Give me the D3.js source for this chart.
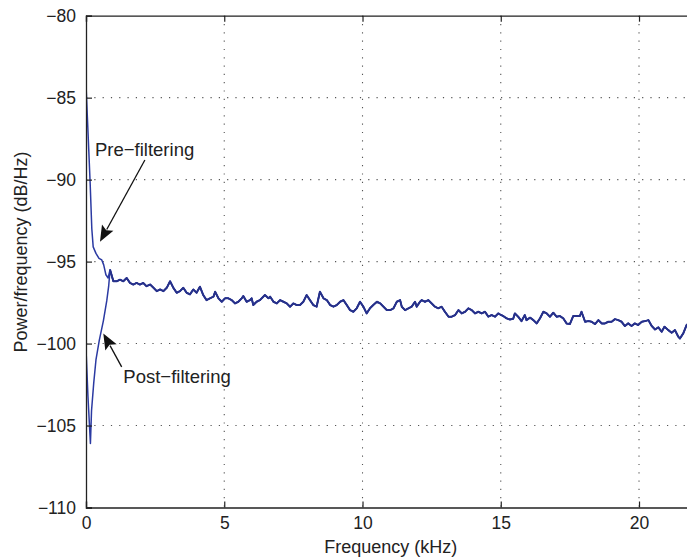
<!DOCTYPE html>
<html>
<head>
<meta charset="utf-8">
<script src="https://cdn.jsdelivr.net/npm/d3@7"></script>
<style>
  html, body { margin: 0; padding: 0; background: #fff; }
  svg { display: block; font-family: "Liberation Sans", Arial, Helvetica, sans-serif; }
</style>
</head>
<body>
<svg id="chart" width="687" height="559"></svg>
<script>
// ---- Data ----
const xTicks = [0, 5, 10, 15, 20];
const yTicks = [-110, -105, -100, -95, -90, -85, -80];
const xDomain = [0, 22.05];
const yDomain = [-110, -80];

// Low-frequency part, before the two spectra merge
const preLowFreq = [0, 0.05, 0.10, 0.15, 0.21, 0.26, 0.36, 0.47, 0.57, 0.64, 0.72, 0.80];
const preLowDb   = [-84.2, -86.2, -88.2, -90.2, -93.0, -94.1, -94.5, -94.8, -94.9, -95.2, -95.8, -96.0];
const postLowFreq = [0, 0.07, 0.16, 0.20, 0.28, 0.36, 0.48, 0.63, 0.75, 0.82];
const postLowDb   = [-100.3, -103.2, -106.1, -104.1, -102.4, -101.0, -99.8, -98.6, -97.4, -96.5];

// Shared part (both spectra coincide above ~0.9 kHz)
const sharedFreq = [
  0.87, 0.99, 1.11, 1.23, 1.35, 1.47, 1.59, 1.71, 1.83, 1.95, 2.07, 2.19, 2.32, 2.44, 2.56, 2.68,
  2.80, 2.92, 3.04, 3.16, 3.28, 3.40, 3.52, 3.64, 3.76, 3.88, 4.00,
  4.12, 4.24, 4.36, 4.48, 4.61, 4.67, 4.79, 4.91, 5.03, 5.15, 5.27, 5.39, 5.51, 5.63, 5.69, 5.81,
  5.93, 5.99, 6.05, 6.17, 6.29, 6.41, 6.47, 6.60, 6.66, 6.78, 6.90, 7.02, 7.14, 7.26, 7.38, 7.50,
  7.62, 7.74, 7.86, 7.98, 8.10, 8.22, 8.34, 8.46, 8.59, 8.71, 8.83, 8.95, 9.07, 9.19, 9.31, 9.43,
  9.55, 9.67, 9.79, 9.91, 10.03, 10.15, 10.27, 10.39, 10.52, 10.64, 10.76, 10.88, 11.00, 11.12,
  11.24, 11.36,
  11.42, 11.54, 11.66, 11.78, 11.90, 11.96, 12.08, 12.14, 12.26, 12.38, 12.50, 12.62, 12.74, 12.86,
  12.98, 13.11, 13.23, 13.35, 13.47, 13.59, 13.71, 13.83, 13.95, 14.07, 14.19, 14.31, 14.43, 14.55,
  14.67, 14.79, 14.91,
  14.97, 15.09, 15.21, 15.33, 15.45, 15.51, 15.63, 15.75, 15.87, 15.93, 16.06, 16.18, 16.30, 16.42,
  16.54, 16.66, 16.78, 16.90, 17.02, 17.14, 17.26, 17.38, 17.50, 17.62, 17.74, 17.86, 17.92, 18.05,
  18.17, 18.29, 18.41, 18.53, 18.65, 18.77, 18.89, 19.01, 19.13, 19.25, 19.37, 19.49, 19.61, 19.73,
  19.85, 19.97, 20.10, 20.22, 20.34, 20.46, 20.58, 20.70, 20.82, 20.92, 21.06, 21.18, 21.30, 21.42,
  21.48, 21.60, 21.72, 21.85, 21.97, 22.05
];
const sharedDb = [
  -95.5, -96.2, -96.2, -96.1, -96.2, -96.0, -96.3, -96.4, -96.3, -96.4, -96.3, -96.5, -96.4, -96.6, -96.8, -96.7,
  -96.8, -96.6, -96.2, -96.6, -96.9, -96.8, -96.6, -96.9, -97.0, -96.7, -96.9,
  -96.53, -97.04, -97.35, -97.24, -97.14, -96.84, -97.24, -97.45, -97.24, -97.24, -97.35, -97.55, -97.45, -97.24, -97.10, -97.45,
  -97.35, -97.24, -97.65, -97.45, -97.35, -97.14, -97.04, -97.24, -97.14, -97.45, -97.55, -97.35, -97.45, -97.55, -97.75, -97.55,
  -97.65, -97.65, -97.45, -97.04, -97.35, -97.65, -97.75, -96.84, -97.24, -97.35, -97.65, -97.75, -97.65, -97.45, -97.35, -97.65,
  -97.96, -98.06, -97.85, -97.45, -97.75, -98.16, -97.85, -97.65, -97.45, -97.55, -97.75, -97.96, -97.96, -97.85,
  -97.45, -97.35,
  -97.75, -97.96, -97.85, -97.75, -97.45, -97.75, -97.45, -97.35, -97.45, -97.35, -97.55, -97.75, -97.85, -97.75,
  -98.06, -98.36, -98.36, -98.26, -97.96, -98.16, -98.06, -97.85, -97.96, -98.16, -98.06, -98.16, -98.06, -98.36,
  -98.26, -98.36, -98.16,
  -98.22, -98.32, -98.46, -98.53, -98.49, -98.16, -98.36, -98.63, -98.26, -98.57, -98.42, -98.57, -98.77, -98.46,
  -98.06, -98.16, -98.36, -98.12, -98.36, -98.32, -98.46, -98.77, -98.81, -98.32, -98.32, -98.32, -98.06, -98.67,
  -98.63, -98.67, -98.81, -98.57, -98.77, -98.77, -98.67, -98.67, -98.51, -98.57, -98.67, -98.93, -98.77, -98.93,
  -98.77, -98.87, -98.67, -98.63, -98.57, -98.93, -99.14, -99.01, -99.28, -98.97, -99.18, -99.34, -99.18, -99.58,
  -99.69, -99.38, -98.87, -98.70, -98.80, -98.90
];

// Annotations (in data units: kHz, dB)
const annotations = [
  { text: "Pre\u2212filtering",  tx: 0.325, ty: -88.56, from: [2.13, -88.8],  to: [0.506, -93.79] },
  { text: "Post\u2212filtering", tx: 1.35,  ty: -102.43, from: [1.29, -101.42], to: [0.626, -99.38] }
];

// ---- Layout ----
const svg = d3.select("#chart");
const mLeft = 86, mRight = 695.7, mTop = 15.7, mBottom = 507.5;

const x = d3.scaleLinear().domain(xDomain).range([mLeft, mRight]);
const y = d3.scaleLinear().domain(yDomain).range([mBottom, mTop]);

svg.append("rect").attr("width", 687).attr("height", 559).attr("fill", "#fff");

svg.append("defs").append("clipPath").attr("id", "plotclip")
  .append("rect").attr("x", mLeft).attr("y", mTop).attr("width", mRight - mLeft).attr("height", mBottom - mTop);

// Grid (dotted)
const grid = svg.append("g");
grid.selectAll(".gx").data(xTicks.filter(d => d > xDomain[0] && d < xDomain[1])).enter().append("line")
  .attr("x1", d => x(d)).attr("x2", d => x(d)).attr("y1", mTop).attr("y2", mBottom)
  .attr("stroke", "#555").attr("stroke-width", 1.1).attr("stroke-dasharray", "1.2,7.1");
grid.selectAll(".gy").data(yTicks.filter(d => d > yDomain[0] && d < yDomain[1])).enter().append("line")
  .attr("y1", d => y(d)).attr("y2", d => y(d)).attr("x1", mLeft).attr("x2", mRight)
  .attr("stroke", "#555").attr("stroke-width", 1.1).attr("stroke-dasharray", "1.2,7.1");

// Lines
const line = d3.line().x(d => x(d[0])).y(d => y(d[1]));
const shared = sharedFreq.map((f, i) => [f, sharedDb[i]]);
const pre = preLowFreq.map((f, i) => [f, preLowDb[i]]).concat(shared);
const post = postLowFreq.map((f, i) => [f, postLowDb[i]]).concat(shared);

const lines = svg.append("g").attr("clip-path", "url(#plotclip)");
[post, pre].forEach(series => {
  lines.append("path").datum(series).attr("d", line)
    .attr("fill", "none").attr("stroke", "#2b3aa2").attr("stroke-width", 1.5)
    .attr("stroke-linejoin", "round");
});
// the merged section is drawn a little heavier, as in the reference
lines.append("path").datum(shared).attr("d", line)
  .attr("fill", "none").attr("stroke", "#27318a").attr("stroke-width", 2)
  .attr("stroke-linejoin", "round");

// Axes (box with inward ticks)
const xAxisB = d3.axisBottom(x).tickValues(xTicks).tickSize(-6).tickPadding(9)
  .tickFormat(d => d3.format("d")(d));
const yAxisL = d3.axisLeft(y).tickValues(yTicks).tickSize(-6).tickPadding(10)
  .tickFormat(d => (d < 0 ? "\u2212" : "") + Math.abs(d));
const xAxisT = d3.axisTop(x).tickValues(xTicks).tickSize(-6).tickFormat("");

function styleAxis(g) {
  g.select(".domain").attr("stroke", "#222").attr("stroke-width", 1.3);
  g.selectAll(".tick line").attr("stroke", "#222").attr("stroke-width", 1.2);
  g.selectAll(".tick text").attr("fill", "#222").attr("font-size", "17.5px")
    .attr("font-family", "Liberation Sans, Arial, sans-serif");
}
svg.append("g").attr("transform", `translate(0,${mBottom})`).call(xAxisB).call(styleAxis);
svg.append("g").attr("transform", `translate(${mLeft},0)`).call(yAxisL).call(styleAxis);
svg.append("g").attr("transform", `translate(0,${mTop})`).call(xAxisT).call(styleAxis);
// right edge of the box (falls just beyond the visible area)
svg.append("line").attr("x1", mRight).attr("x2", mRight).attr("y1", mTop).attr("y2", mBottom)
  .attr("stroke", "#222").attr("stroke-width", 1.3);

// Axis labels
svg.append("text").attr("x", (mLeft + mRight) / 2).attr("y", 553)
  .attr("text-anchor", "middle").attr("font-size", "18px").attr("fill", "#222")
  .text("Frequency (kHz)");
svg.append("text").attr("transform", "translate(27,252) rotate(-90)")
  .attr("text-anchor", "middle").attr("font-size", "18px").attr("fill", "#222")
  .text("Power/frequency (dB/Hz)");

// Annotations with arrows
const ann = svg.append("g");
annotations.forEach(a => {
  ann.append("text").attr("x", x(a.tx)).attr("y", y(a.ty))
    .attr("font-size", "18.5px").attr("fill", "#222").text(a.text);
  const x0 = x(a.from[0]), y0 = y(a.from[1]), x1 = x(a.to[0]), y1 = y(a.to[1]);
  const dx = x1 - x0, dy = y1 - y0, len = Math.hypot(dx, dy);
  const ux = dx / len, uy = dy / len, hl = 16, hw = 6.5;
  const bx = x1 - ux * hl, by = y1 - uy * hl;
  ann.append("line").attr("x1", x0).attr("y1", y0).attr("x2", bx + ux * 2).attr("y2", by + uy * 2)
    .attr("stroke", "#111").attr("stroke-width", 1.3);
  ann.append("path")
    .attr("d", `M${x1},${y1} L${bx - uy * hw},${by + ux * hw} L${bx + ux * 3},${by + uy * 3} L${bx + uy * hw},${by - ux * hw} Z`)
    .attr("fill", "#111");
});
</script>
</body>
</html>
